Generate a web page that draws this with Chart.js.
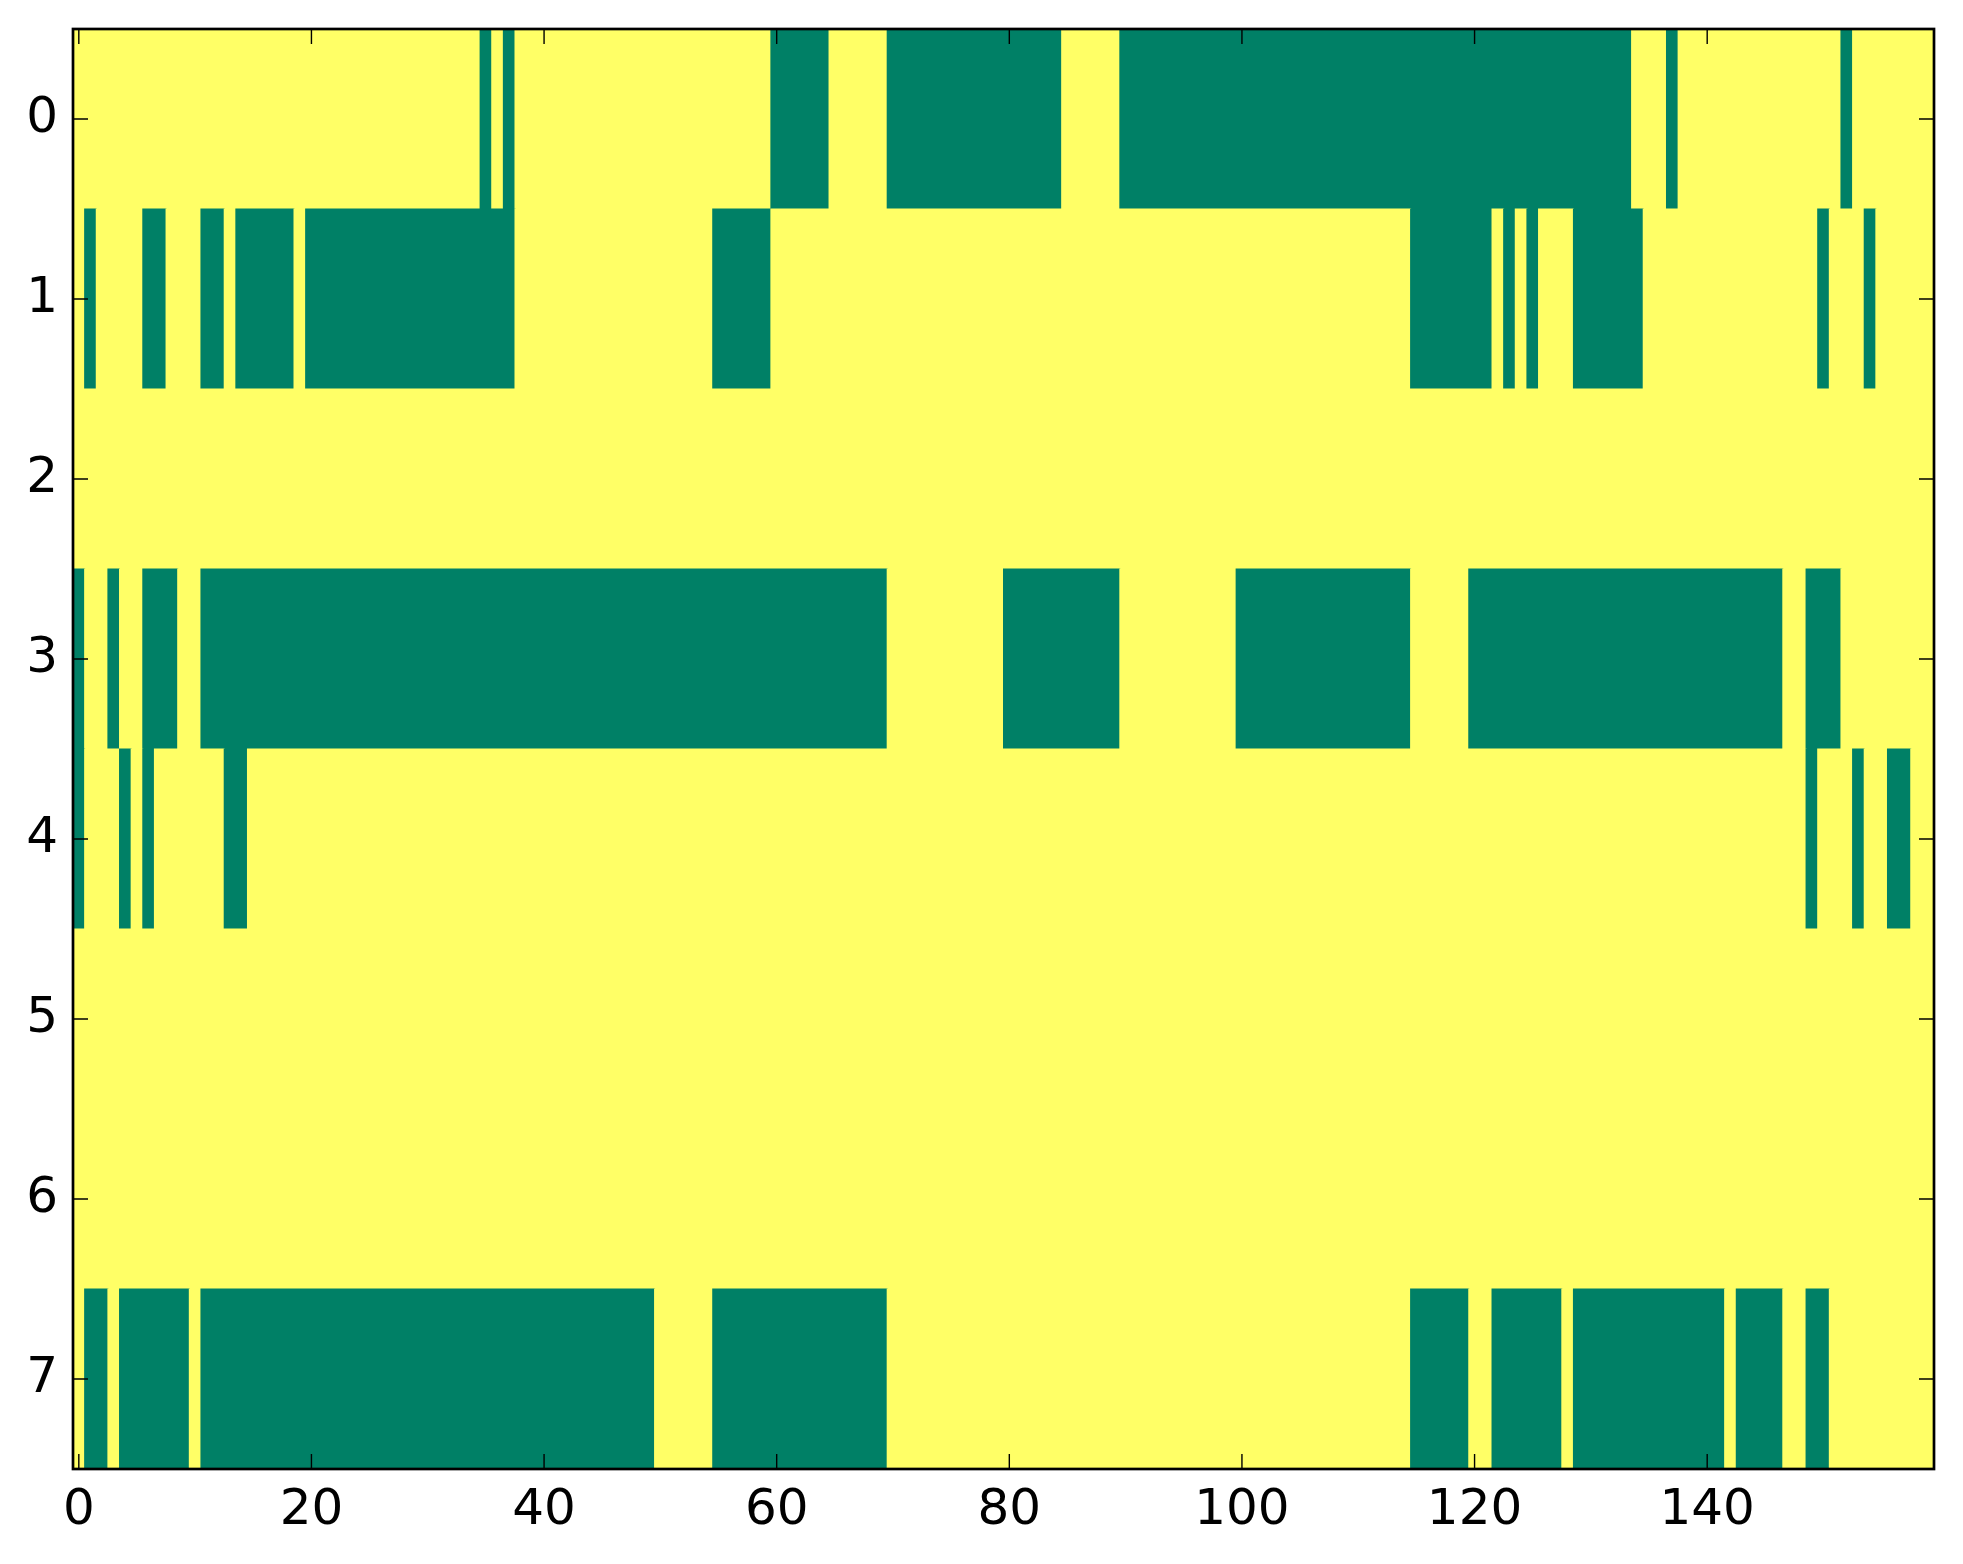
<!DOCTYPE html>
<html>
<head>
<meta charset="utf-8">
<script src="https://cdn.jsdelivr.net/npm/chart.js@4/dist/chart.umd.min.js"></script>
<style>
  html, body { margin: 0; padding: 0; background: #ffffff; }
  #wrap { width: 1963px; height: 1564px; position: relative; }
</style>
</head>
<body>
<div id="wrap"><canvas id="c"></canvas></div>
<script>
// Binary matrix (8 rows x 160 columns). 1 = yellow, 0 = green.
const row0 = "1111111111 1111111111 1111111111 1111101011 1111111111 1111111111 0000011111 0000000000 0000011111 0000000000 0000000000 0000000000 0000000000 0000111011 1111111111 1101111111";
const row1 = "1011110011 1001000001 0000000000 0000000011 1111111111 1111100000 1111111111 1111111111 1111111111 1111111111 1111111111 1111100000 0010101110 0000011111 1111111111 0111011111";
const row2 = "1111111111 1111111111 1111111111 1111111111 1111111111 1111111111 1111111111 1111111111 1111111111 1111111111 1111111111 1111111111 1111111111 1111111111 1111111111 1111111111";
const row3 = "0110110001 1000000000 0000000000 0000000000 0000000000 0000000000 0000000000 1111111111 0000000000 1111111111 0000000000 0000011111 0000000000 0000000000 0000000110 0011111111";
const row4 = "0111010111 1110011111 1111111111 1111111111 1111111111 1111111111 1111111111 1111111111 1111111111 1111111111 1111111111 1111111111 1111111111 1111111111 1111111110 1110110011";
const row5 = "1111111111 1111111111 1111111111 1111111111 1111111111 1111111111 1111111111 1111111111 1111111111 1111111111 1111111111 1111111111 1111111111 1111111111 1111111111 1111111111";
const row6 = "1111111111 1111111111 1111111111 1111111111 1111111111 1111111111 1111111111 1111111111 1111111111 1111111111 1111111111 1111111111 1111111111 1111111111 1111111111 1111111111";
const row7 = "1001000000 1000000000 0000000000 0000000000 0000000000 1111100000 0000000000 1111111111 1111111111 1111111111 1111111111 1111100000 1100000010 0000000000 0010000110 0111111111";

const rowLabels = [0, 1, 2, 3, 4, 5, 6, 7];
const xTickValues = [0, 20, 40, 60, 80, 100, 120, 140];
const nCols = 160;

const valueColors = { 0: '#008066', 1: '#ffff66' };

const rows = [row0, row1, row2, row3, row4, row5, row6, row7]
  .map(s => s.replace(/\s+/g, '').split('').map(Number));

// Merge consecutive equal cells of a row into floating bars
const bars = [];
const colors = [];
rows.forEach((vals, r) => {
  let start = 0;
  for (let c = 1; c <= vals.length; c++) {
    if (c === vals.length || vals[c] !== vals[start]) {
      bars.push({ x: [start - 0.5, c - 0.5], y: rowLabels[r] });
      colors.push(valueColors[vals[start]]);
      start = c;
    }
  }
});

const framePlugin = {
  id: 'framePlugin',
  afterDraw(chart) {
    const { ctx, chartArea: { left, right, top, bottom }, scales: { x, y } } = chart;
    ctx.save();
    ctx.strokeStyle = '#000000';
    ctx.lineWidth = 1.4;
    const tl = 15;
    ctx.beginPath();
    xTickValues.forEach(v => {
      const px = x.getPixelForValue(v);
      ctx.moveTo(px, bottom); ctx.lineTo(px, bottom - tl);
      ctx.moveTo(px, top); ctx.lineTo(px, top + tl);
    });
    rowLabels.forEach(v => {
      const py = y.getPixelForValue(v);
      ctx.moveTo(left, py); ctx.lineTo(left + tl, py);
      ctx.moveTo(right, py); ctx.lineTo(right - tl, py);
    });
    ctx.stroke();
    ctx.lineWidth = 2.7;
    ctx.strokeRect(left, top, right - left, bottom - top);
    ctx.restore();
  }
};

new Chart(document.getElementById('c'), {
  type: 'bar',
  data: {
    datasets: [{
      data: bars,
      backgroundColor: colors,
      borderWidth: 0,
      inflateAmount: 0.5,
      barPercentage: 1,
      categoryPercentage: 1
    }]
  },
  options: {
    indexAxis: 'y',
    responsive: true,
    maintainAspectRatio: false,
    animation: false,
    events: [],
    layout: { padding: { top: 29, right: 29, left: 0, bottom: 0 } },
    plugins: { legend: { display: false }, tooltip: { enabled: false } },
    scales: {
      x: {
        type: 'linear',
        position: 'bottom',
        offset: false,
        min: -0.5,
        max: nCols - 0.5,
        afterBuildTicks: s => { s.ticks = xTickValues.map(v => ({ value: v })); },
        afterFit: s => { s.height = 95; s.paddingLeft = 0; s.paddingRight = 0; },
        grid: { display: false, drawTicks: false },
        border: { display: false },
        ticks: {
          autoSkip: false,
          maxRotation: 0,
          padding: 12,
          color: '#000000',
          font: { family: 'DejaVu Sans', size: 50 }
        }
      },
      y: {
        type: 'linear',
        offset: false,
        reverse: true,
        min: -0.5,
        max: 7.5,
        afterBuildTicks: s => { s.ticks = rowLabels.map(v => ({ value: v })); },
        afterFit: s => { s.width = 73; s.paddingTop = 0; s.paddingBottom = 0; },
        grid: { display: false, drawTicks: false },
        border: { display: false },
        ticks: {
          autoSkip: false,
          padding: 15,
          color: '#000000',
          font: { family: 'DejaVu Sans', size: 50 }
        }
      }
    }
  },
  plugins: [framePlugin]
});
</script>
</body>
</html>
